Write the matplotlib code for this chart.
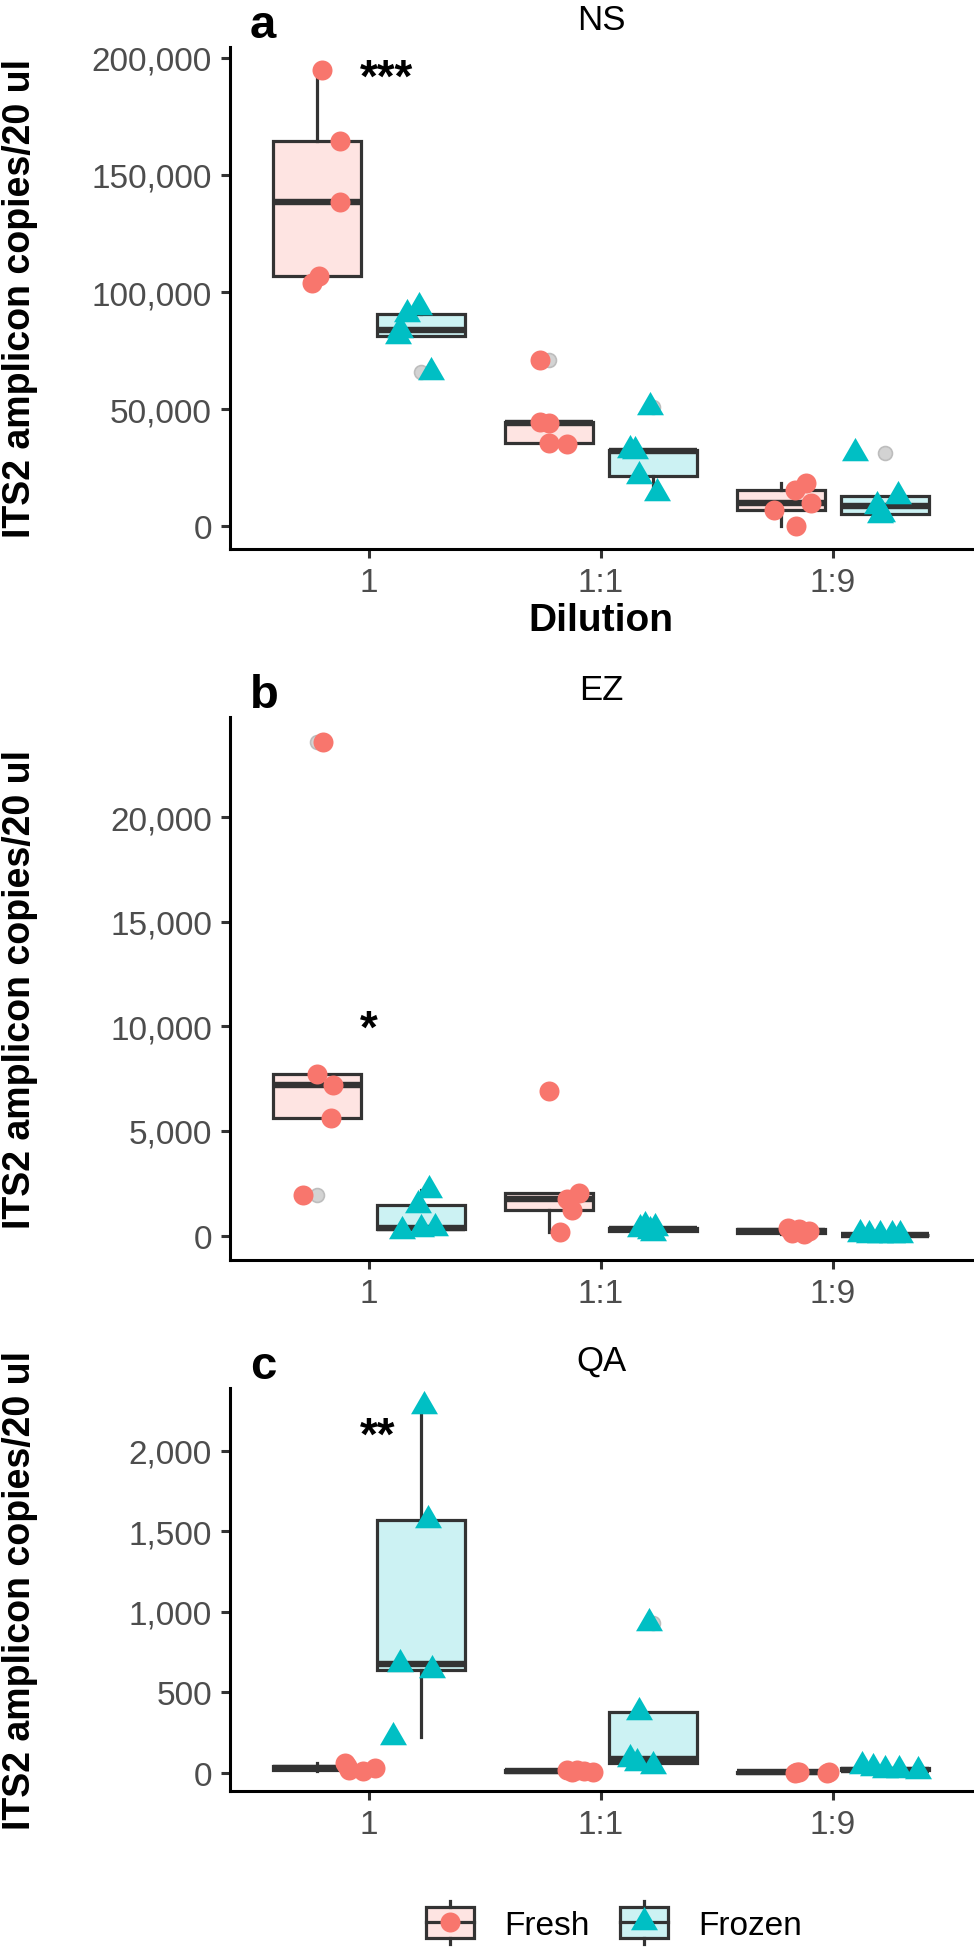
import matplotlib
matplotlib.use("Agg")
import matplotlib.pyplot as plt
import numpy as np
from matplotlib.ticker import FuncFormatter
from matplotlib.patches import Rectangle, Patch
from matplotlib.lines import Line2D
from matplotlib.legend_handler import HandlerBase

plt.rcParams['font.family'] = ['Liberation Sans', 'DejaVu Sans']

# ---------------- data ----------------
categories = ['1', '1:1', '1:9']
conditions = ['Fresh', 'Frozen']
panel_titles = ['NS', 'EZ', 'QA']
panel_letters = ['a', 'b', 'c']
signif = ['***', '*', '**']
signif_y = [197000, 10500, 2180]

ns_fresh = [[194800, 164600, 138400, 106700, 103700],
            [71200, 44500, 44200, 35800, 35100],
            [18500, 15700, 10100, 7200, 100]]
ns_fresh_jit = [[0.02, 0.10, 0.10, 0.01, -0.02],
                [-0.04, -0.04, 0.00, 0.00, 0.08],
                [0.11, 0.06, 0.13, -0.03, 0.065]]
ns_frozen = [[93700, 90600, 83800, 81400, 65800],
             [51000, 32800, 32000, 21400, 14300],
             [31300, 12900, 8900, 5500, 5000]]
ns_frozen_jit = [[-0.01, -0.06, -0.09, -0.10, 0.04],
                 [-0.015, -0.10, -0.08, -0.06, 0.015],
                 [-0.13, 0.056, -0.036, -0.014, -0.02]]

ez_fresh = [[23600, 7720, 7180, 5600, 1950],
            [6920, 2050, 1760, 1200, 160],
            [350, 300, 200, 100, 50]]
ez_fresh_jit = [[0.026, 0.0, 0.07, 0.06, -0.06],
                [0.0, 0.13, 0.08, 0.10, 0.05],
                [0.03, 0.08, 0.12, 0.05, 0.10]]
ez_frozen = [[2160, 1440, 370, 290, 210],
             [450, 380, 300, 220, 120],
             [50, 40, 30, 20, 10]]
ez_frozen_jit = [[0.035, -0.015, 0.06, 0.0, -0.085],
                 [-0.035, 0.01, -0.055, -0.015, 0.0],
                 [-0.11, -0.02, 0.065, -0.07, 0.03]]

qa_fresh = [[60, 45, 30, 15, 10],
            [20, 15, 10, 8, 5],
            [8, 5, 3, 2, 1]]
qa_fresh_jit = [[0.12, 0.13, 0.25, 0.14, 0.20],
                [0.08, 0.12, 0.15, 0.19, 0.10],
                [0.07, 0.21, 0.08, 0.20, 0.06]]
qa_frozen = [[2277, 1570, 675, 640, 220],
             [930, 380, 85, 60, 45],
             [45, 30, 20, 15, 10]]
qa_frozen_jit = [[0.013, 0.027, -0.09, 0.045, -0.124],
                 [-0.02, -0.06, -0.10, -0.07, 0.0],
                 [-0.10, -0.05, 0.0, 0.06, 0.14]]

yticks_a = [0, 50000, 100000, 150000, 200000]
yticks_b = [0, 5000, 10000, 15000, 20000]
yticks_c = [0, 500, 1000, 1500, 2000]

panels = [
    (ns_fresh, ns_fresh_jit, ns_frozen, ns_frozen_jit, yticks_a),
    (ez_fresh, ez_fresh_jit, ez_frozen, ez_frozen_jit, yticks_b),
    (qa_fresh, qa_fresh_jit, qa_frozen, qa_frozen_jit, yticks_c),
]

# ---------------- style ----------------
W, H = 974, 1956
DPI = 100
col_fresh = '#F8766D'
col_frozen = '#00BFC4'
fill_fresh = '#FEE4E2'
fill_frozen = '#CCF2F3'
edge = '#333333'
tri = [(0, 1), (-0.866, -0.5), (0.866, -0.5), (0, 1)]
circ_ms = 14.4
tri_ms = 22.4
dodge = 0.225
box_w = 0.38
lw_box = 2.3
lw_med = 4.6

# axes boxes in pixels (top, bottom)
axes_px = [(48, 550), (718, 1261), (1389, 1792)]
left_px, right_px = 230, 972

fig = plt.figure(figsize=(W / DPI, H / DPI), dpi=DPI)

fmt = FuncFormatter(lambda v, p: '{:,.0f}'.format(v))

for i, (fr, frj, fz, fzj, yt) in enumerate(panels):
    top, bot = axes_px[i]
    ax = fig.add_axes([left_px / W, 1 - bot / H, (right_px - left_px) / W, (bot - top) / H])
    pos = np.arange(1, len(categories) + 1)
    for vals, jit, sign, fill, col, mk, ms in [
        (fr, frj, -1, fill_fresh, col_fresh, 'o', circ_ms),
        (fz, fzj, 1, fill_frozen, col_frozen, tri, tri_ms)]:
        ax.boxplot(vals, positions=pos + sign * dodge, widths=box_w,
                   patch_artist=True, manage_ticks=False, whis=1.5,
                   boxprops=dict(facecolor=fill, edgecolor=edge, linewidth=lw_box),
                   medianprops=dict(color=edge, linewidth=lw_med, solid_capstyle='butt'),
                   whiskerprops=dict(color=edge, linewidth=lw_box),
                   capprops=dict(linewidth=0),
                   flierprops=dict(marker='o', markersize=10, markerfacecolor='#D3D3D3',
                                   markeredgecolor='#BDBDBD', markeredgewidth=1.2),
                   zorder=2)
        for k in range(len(categories)):
            xs = pos[k] + sign * dodge + np.array(jit[k])
            ax.plot(xs, vals[k], linestyle='none', marker=mk, markersize=ms,
                    color=col, markeredgewidth=0, zorder=4)
    allv = np.concatenate([np.ravel(fr), np.ravel(fz)])
    lo, hi = allv.min(), allv.max()
    rng = hi - lo
    ax.set_ylim(lo - 0.05 * rng, hi + 0.05 * rng)
    ax.set_xlim(0.4, len(categories) + 0.6)
    ax.set_xticks(pos)
    ax.set_xticklabels(categories)
    ax.set_yticks(yt)
    ax.yaxis.set_major_formatter(fmt)
    for s in ['top', 'right']:
        ax.spines[s].set_visible(False)
    for s in ['left', 'bottom']:
        ax.spines[s].set_linewidth(2.2)
        ax.spines[s].set_color('black')
    ax.tick_params(axis='both', length=6.5, width=2.2, color=edge, labelsize=24,
                   labelcolor='#4D4D4D', pad=6.5)
    # y label (right edge of rotated text ~38 px from figure left)
    fig.text(38 / W, 1 - ((top + bot) / 2) / H, 'ITS2 amplicon copies/20 ul', rotation=90,
             fontsize=27, fontweight='bold', ha='right', va='center')
    # title and letter
    fig.text(601 / W, 1 - (top - 18) / H, panel_titles[i], fontsize=25, ha='center', va='baseline')
    fig.text(250 / W, 1 - (top - 10) / H, panel_letters[i], fontsize=34, fontweight='bold',
             ha='left', va='baseline')
    ax.annotate(signif[i], xy=(0.96, signif_y[i]), xytext=(0, -19), textcoords='offset points',
                fontsize=33, fontweight='bold', ha='left', va='baseline', zorder=5)
    if i == 0:
        ax.set_xlabel('Dilution', fontsize=28, fontweight='bold', labelpad=3)


class BoxKey(HandlerBase):
    def __init__(self, fill, col, mk, ms):
        super().__init__()
        self.fill, self.col, self.mk, self.ms = fill, col, mk, ms

    def create_artists(self, legend, orig_handle, xdescent, ydescent, width, height, fontsize, trans):
        x0, y0 = -xdescent, -ydescent
        r = Rectangle((x0, y0), width, height, facecolor=self.fill, edgecolor=edge,
                      linewidth=lw_box, transform=trans)
        m = Line2D([x0, x0 + width], [y0 + height / 2] * 2, color=edge, linewidth=lw_box, transform=trans)
        wt = Line2D([x0 + width / 2] * 2, [y0 + height, y0 + height * 1.22], color=edge,
                    linewidth=lw_box, transform=trans)
        wb = Line2D([x0 + width / 2] * 2, [y0, y0 - height * 0.22], color=edge,
                    linewidth=lw_box, transform=trans)
        p = Line2D([x0 + width / 2], [y0 + height / 2], linestyle='none', marker=self.mk,
                   markersize=self.ms, color=self.col, markeredgewidth=0, transform=trans)
        return [r, m, wt, wb, p]


h1 = Patch(label=conditions[0])
h2 = Patch(label=conditions[1])
fig.legend(handles=[h1, h2], loc='center', bbox_to_anchor=(614 / W, 1 - 1925 / H), ncol=2,
           frameon=False, fontsize=24, handlelength=1.44, handleheight=1.02,
           handletextpad=0.9, columnspacing=0.93, borderpad=0,
           handler_map={h1: BoxKey(fill_fresh, col_fresh, 'o', circ_ms),
                        h2: BoxKey(fill_frozen, col_frozen, tri, tri_ms)})

fig.savefig('out.png', dpi=DPI)
